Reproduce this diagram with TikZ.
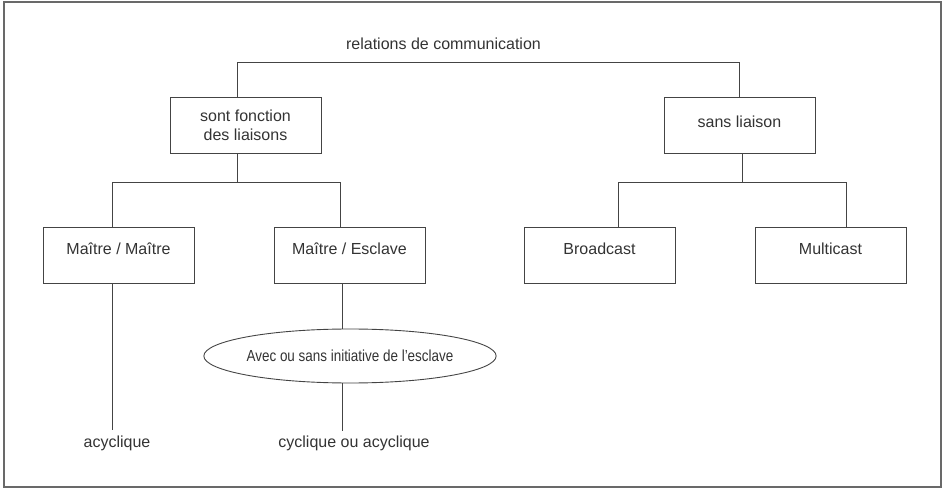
\documentclass[tikz,border=0pt]{standalone}
\usepackage{fontspec}
\usepackage{graphicx}
\setmainfont{Liberation Sans}
\usetikzlibrary{shapes.geometric}
\definecolor{ln}{HTML}{444444}
\definecolor{tx}{HTML}{333333}
\begin{document}
\begin{tikzpicture}[x=1pt,y=-1pt,
  every node/.style={text=tx,font=\fontsize{16}{19}\selectfont},
  box/.style={draw=ln,line width=0.9pt,minimum width=151pt,minimum height=56pt,inner sep=0pt,align=center},
  rowbox/.style={box,text height=11pt,text depth=11pt},
  oval/.style={draw=ln,line width=0.9pt,ellipse,minimum width=290pt,minimum height=54pt,inner sep=0pt},
  conn/.style={draw=ln,line width=0.9pt},
  lbl/.style={inner sep=2pt}]
\useasboundingbox (0,0) rectangle (943,489);
\draw[draw=ln!80,line width=1.2pt] (4,2) rectangle (941,487);

\node[lbl] (rel) at (443.5,44) {relations de communication};
\node[box] (sont) at (245.5,125) {sont fonction\\des liaisons};
\node[box,text height=11pt,text depth=6pt] (sans) at (739.5,125) {sans liaison};

\node[rowbox] (mm) at (118.5,255) {Maître / Maître};
\node[rowbox] (me) at (349.5,255) {Maître / Esclave};
\node[rowbox] (bc) at (599.5,255) {Broadcast};
\node[rowbox] (mc) at (830.5,255) {Multicast};

\node[oval] (ell) at (350,356) {\scalebox{0.84}[1]{Avec ou sans initiative de l'esclave}};
\node[lbl] (acyc) at (117,443) {acyclique};
\node[lbl] (cyc) at (354,443) {cyclique ou acyclique};

\coordinate (t1) at (237,62);
\coordinate (t2) at (739,62);
\draw[conn] (sont.north -| t1) -- (t1) -- (t2) -- (sans.north -| t2);

\coordinate (a0) at (237,182);
\coordinate (a1) at (112,182);
\coordinate (a2) at (340,182);
\draw[conn] (sont.south -| a0) -- (a0);
\draw[conn] (mm.north -| a1) -- (a1) -- (a2) -- (me.north -| a2);

\coordinate (b0) at (742,182);
\coordinate (b1) at (618,182);
\coordinate (b2) at (846,182);
\draw[conn] (sans.south -| b0) -- (b0);
\draw[conn] (bc.north -| b1) -- (b1) -- (b2) -- (mc.north -| b2);

\coordinate (v1) at (112,430);
\draw[conn] (mm.south -| v1) -- (v1);
\coordinate (v2) at (342,329);
\draw[conn] (me.south -| v2) -- (v2);
\coordinate (v3) at (342,383);
\coordinate (v4) at (342,431);
\draw[conn] (v3) -- (v4);
\end{tikzpicture}
\end{document}
